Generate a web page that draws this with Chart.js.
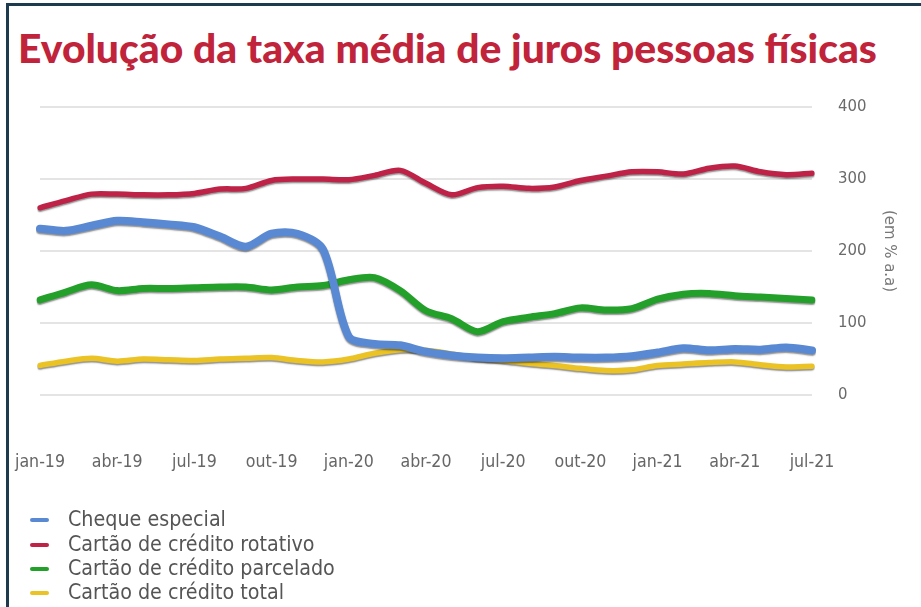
<!DOCTYPE html>
<html>
<head>
<meta charset="utf-8">
<script src="https://cdn.jsdelivr.net/npm/chart.js@4"></script>
<style>
html,body{margin:0;padding:0;background:#fff;}
#page{position:relative;width:921px;height:607px;overflow:hidden;background:#fff;}
#topbar{position:absolute;left:6px;top:3px;right:0;height:3px;background:#1d3a4f;}
#leftbar{position:absolute;left:6px;top:3px;width:3px;bottom:0;background:#1d3a4f;}
#title{position:absolute;left:18px;top:24px;margin:0;font-weight:900;color:#c0233a;white-space:nowrap;line-height:1.2;}
#chartbox{position:absolute;left:0;top:0;width:921px;height:500px;}
#legend{position:absolute;left:0;top:0;width:921px;height:607px;pointer-events:none;}
.lg-mark{position:absolute;left:30px;width:19px;height:4px;border-radius:2px;}
.lg-text{position:absolute;left:68px;color:#555;white-space:nowrap;line-height:1;}
</style>
</head>
<body>
<div id="page">
  <div id="topbar"></div>
  <div id="leftbar"></div>
  <h1 id="title">Evolução da taxa média de juros pessoas físicas</h1>
  <div id="chartbox"><canvas id="c" width="921" height="500"></canvas></div>
  <div id="legend"></div>
</div>
<script>
// ---- data ----
const months = ['jan','fev','mar','abr','mai','jun','jul','ago','set','out','nov','dez'];
const categories = [];
for (let y = 19; y <= 21; y++) {
  for (let m = 0; m < 12; m++) {
    if (y === 21 && m > 6) break;
    categories.push(months[m] + '-' + y);
  }
}
const tickLabels = ['jan-19','abr-19','jul-19','out-19','jan-20','abr-20','jul-20','out-20','jan-21','abr-21','jul-21'];
const yTicks = [0, 100, 200, 300, 400];

const chequeEspecial = [231,228,235,242,240,237,233,220,206,224,224,202,81,71,69,60,55,52,51,52,53,52,52,54,59,65,62,64,63,66,62];
const cartaoRotativo = [260,270,279,279,278,278,280,286,287,298,300,300,299,305,312,294,278,288,290,287,289,298,304,310,310,307,315,318,310,306,308];
const cartaoParcelado = [132,143,153,145,148,148,149,150,150,146,150,152,160,163,145,117,106,88,102,108,113,121,118,120,133,140,141,138,136,134,132];
const cartaoTotal = [41,47,51,47,50,49,48,50,51,52,48,46,50,58,63,62,57,51,48,44,41,37,34,35,41,43,45,46,42,39,40];

const seriesNames = ['Cheque especial','Cartão de crédito rotativo','Cartão de crédito parcelado','Cartão de crédito total'];
const seriesColors = ['#5a89d4','#be2246','#23a02a','#ebc325'];
const seriesWidths = [8, 5.5, 7, 5.5];
const seriesValues = [chequeEspecial, cartaoRotativo, cartaoParcelado, cartaoTotal];

// ---- font fitting ----
function fitFont(text, family, weight, targetWidth) {
  const ctx = document.createElement('canvas').getContext('2d');
  ctx.font = weight + ' 40px ' + family;
  const w = ctx.measureText(text).width;
  return 40 * targetWidth / w;
}
const titleEl = document.getElementById('title');
const titleFamily = 'Lato, Roboto, sans-serif';
titleEl.style.fontFamily = titleFamily;
titleEl.style.fontSize = fitFont(titleEl.textContent, titleFamily, '900', 859).toFixed(2) + 'px';

const narrowFamily = '"Liberation Sans Narrow", "DejaVu Sans Condensed", "Open Sans", sans-serif';
const tickSize = Math.min(19, fitFont('jan-19', narrowFamily, '400', 50));

// ---- chart ----
const shadowPlugin = {
  id: 'lineShadow',
  beforeDatasetDraw(chart) {
    const ctx = chart.ctx;
    ctx.save();
    ctx.shadowColor = 'rgba(0,0,0,0.45)';
    ctx.shadowBlur = 1.5;
    ctx.shadowOffsetX = 0;
    ctx.shadowOffsetY = 1.5;
  },
  afterDatasetDraw(chart) {
    chart.ctx.restore();
  }
};

const chart = new Chart(document.getElementById('c'), {
  type: 'line',
  data: {
    labels: categories,
    datasets: seriesValues.map((vals, i) => ({
      label: seriesNames[i],
      data: vals,
      borderColor: seriesColors[i],
      backgroundColor: seriesColors[i],
      borderWidth: seriesWidths[i],
      pointRadius: 0,
      tension: 0.3,
      borderCapStyle: 'round',
      borderJoinStyle: 'round',
      fill: false
    }))
  },
  options: {
    responsive: false,
    animation: false,
    layout: { padding: { left: 40, top: 107, right: 0, bottom: 0 } },
    plugins: { legend: { display: false }, tooltip: { enabled: false }, title: { display: false } },
    scales: {
      x: {
        type: 'category',
        offset: false,
        grid: { display: true, drawOnChartArea: false, drawTicks: true, tickLength: 54, tickColor: 'rgba(0,0,0,0)', color: 'rgba(0,0,0,0)' },
        border: { display: false },
        ticks: {
          autoSkip: false,
          maxRotation: 0,
          minRotation: 0,
          padding: 3,
          color: '#666',
          font: { family: narrowFamily, size: tickSize },
          callback: function(v, i) {
            const lab = categories[i];
            return tickLabels.includes(lab) ? lab : '';
          }
        },
        afterFit(s) { s.height = 105; }
      },
      y: {
        position: 'right',
        min: 0,
        max: 400,
        afterBuildTicks(s) { s.ticks = yTicks.map(v => ({ value: v })); },
        ticks: {
          padding: 26,
          color: '#6a6a6a',
          font: { family: narrowFamily, size: tickSize - 1 }
        },
        grid: { color: '#e4e4e4', lineWidth: 2, drawTicks: false },
        border: { display: false },
        title: {
          display: true,
          text: '(em % a.a)',
          color: '#777',
          font: { family: narrowFamily, size: tickSize - 1 },
          padding: { top: 22, bottom: 0 }
        },
        afterFit(s) { s.width = 109; }
      }
    }
  },
  plugins: [shadowPlugin]
});

// ---- legend (HTML, from datasets) ----
const legendEl = document.getElementById('legend');
const lgSize = fitFont('Cartão de crédito parcelado', narrowFamily, '400', 267);
const rowCenters = [520, 545, 569, 593];
chart.data.datasets.forEach((ds, i) => {
  const mk = document.createElement('div');
  mk.className = 'lg-mark';
  mk.style.background = ds.borderColor;
  mk.style.top = (rowCenters[i] - 2) + 'px';
  legendEl.appendChild(mk);
  const tx = document.createElement('div');
  tx.className = 'lg-text';
  tx.textContent = ds.label;
  tx.style.fontFamily = narrowFamily;
  tx.style.fontSize = lgSize.toFixed(2) + 'px';
  tx.style.top = (rowCenters[i] - lgSize * 0.55) + 'px';
  legendEl.appendChild(tx);
});
</script>
</body>
</html>
